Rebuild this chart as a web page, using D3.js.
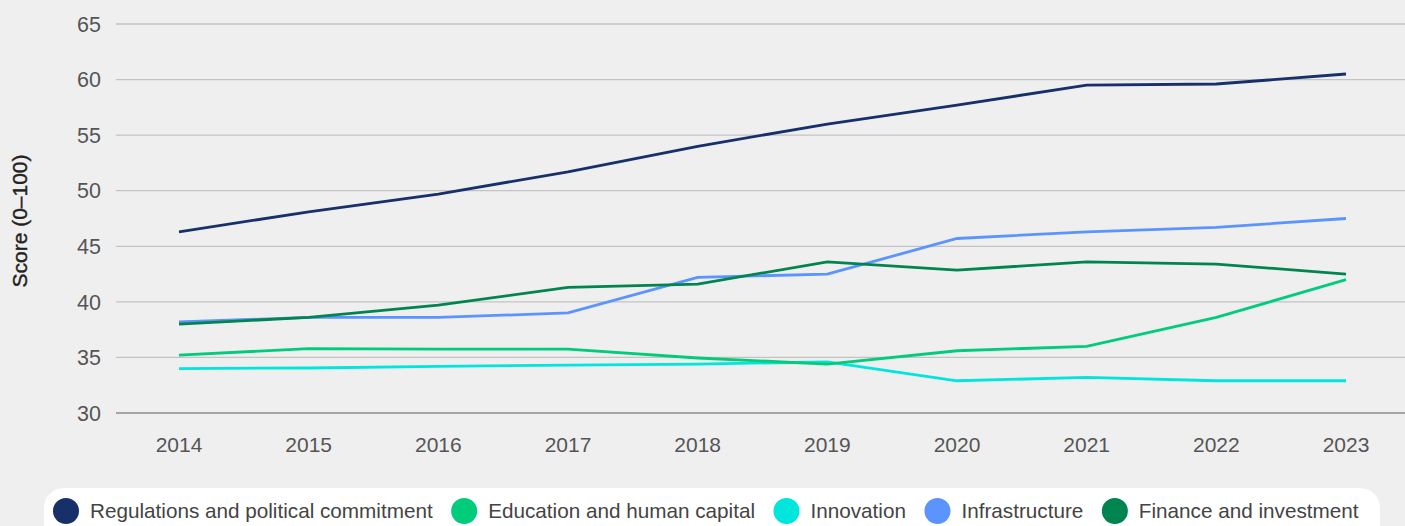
<!DOCTYPE html>
<html><head><meta charset="utf-8">
<script src="https://cdn.jsdelivr.net/npm/d3@7"></script>
<style>
html,body{margin:0;padding:0;background:#efefef;}
svg{display:block;font-family:"Liberation Sans",Arial,Helvetica,sans-serif;}
</style></head>
<body>
<svg id="chart" width="1405" height="526"></svg>
<script>
const years = [2014,2015,2016,2017,2018,2019,2020,2021,2022,2023];
const regulations = [46.3,48.1,49.7,51.7,54.0,56.0,57.7,59.5,59.6,60.5];
const education = [35.2,35.8,35.75,35.75,34.95,34.4,35.6,36.0,38.6,42.0];
const innovation = [34.0,34.05,34.2,34.3,34.4,34.6,32.9,33.2,32.9,32.9];
const infrastructure = [38.2,38.6,38.6,39.0,42.2,42.5,45.7,46.3,46.7,47.5];
const finance = [38.0,38.6,39.7,41.3,41.6,43.6,42.85,43.6,43.4,42.5];
const seriesNames = ["Regulations and political commitment","Education and human capital","Innovation","Infrastructure","Finance and investment"];
const seriesColors = ["#17306a","#00cc7c","#00e6dc","#5b94ff","#008450"];
const yTicks = [30,35,40,45,50,55,60,65];
const yTitle = "Score (0–100)";

const series = [regulations,education,innovation,infrastructure,finance];
const svg = d3.select("#chart");
const W = 1405;
const x = d3.scalePoint().domain(years).range([179,1346]);
const y = d3.scaleLinear().domain([30,65]).range([413,24]);

// grid
const grid = svg.append("g");
grid.selectAll("line").data(yTicks).join("line")
  .attr("x1",116).attr("x2",W)
  .attr("y1",d=>y(d)).attr("y2",d=>y(d))
  .attr("stroke",d=>d===30?"#8c8c8c":"#c3c3c3").attr("stroke-width",1.3);

// y tick labels
svg.append("g").selectAll("text").data(yTicks).join("text")
  .attr("x",101).attr("y",d=>y(d)).attr("dy","0.36em")
  .attr("text-anchor","end").attr("font-size",21.5).attr("fill","#555")
  .text(d=>d);

// x tick labels
svg.append("g").selectAll("text").data(years).join("text")
  .attr("x",d=>x(d)).attr("y",452)
  .attr("text-anchor","middle").attr("font-size",21).attr("fill","#555")
  .text(d=>d);

// y title
svg.append("text").attr("transform","translate(27,221) rotate(-90)")
  .attr("text-anchor","middle").attr("font-size",21).attr("fill","#222")
  .attr("stroke","#222").attr("stroke-width",0.4)
  .text(yTitle);

// lines
const line = d3.line().x((d,i)=>x(years[i])).y(d=>y(d));
const order = [2,1,3,4,0];
svg.append("g").selectAll("path").data(order).join("path")
  .attr("d",k=>line(series[k])).attr("fill","none")
  .attr("stroke",k=>seriesColors[k]).attr("stroke-width",2.8);

// legend
svg.append("rect").attr("x",44).attr("y",488).attr("width",1336).attr("height",60)
  .attr("rx",20).attr("fill","#ffffff");
const lg = svg.append("g");
let cx = 66;
seriesNames.forEach((name,i)=>{
  lg.append("circle").attr("cx",cx).attr("cy",511).attr("r",13).attr("fill",seriesColors[i]);
  const t = lg.append("text").attr("x",cx+24).attr("y",511).attr("dy","0.36em")
    .attr("font-size",20.7).attr("fill","#444").text(name);
  const w = t.node().getComputedTextLength();
  cx = cx + 24 + w + 31.5;
});
</script>
</body></html>
